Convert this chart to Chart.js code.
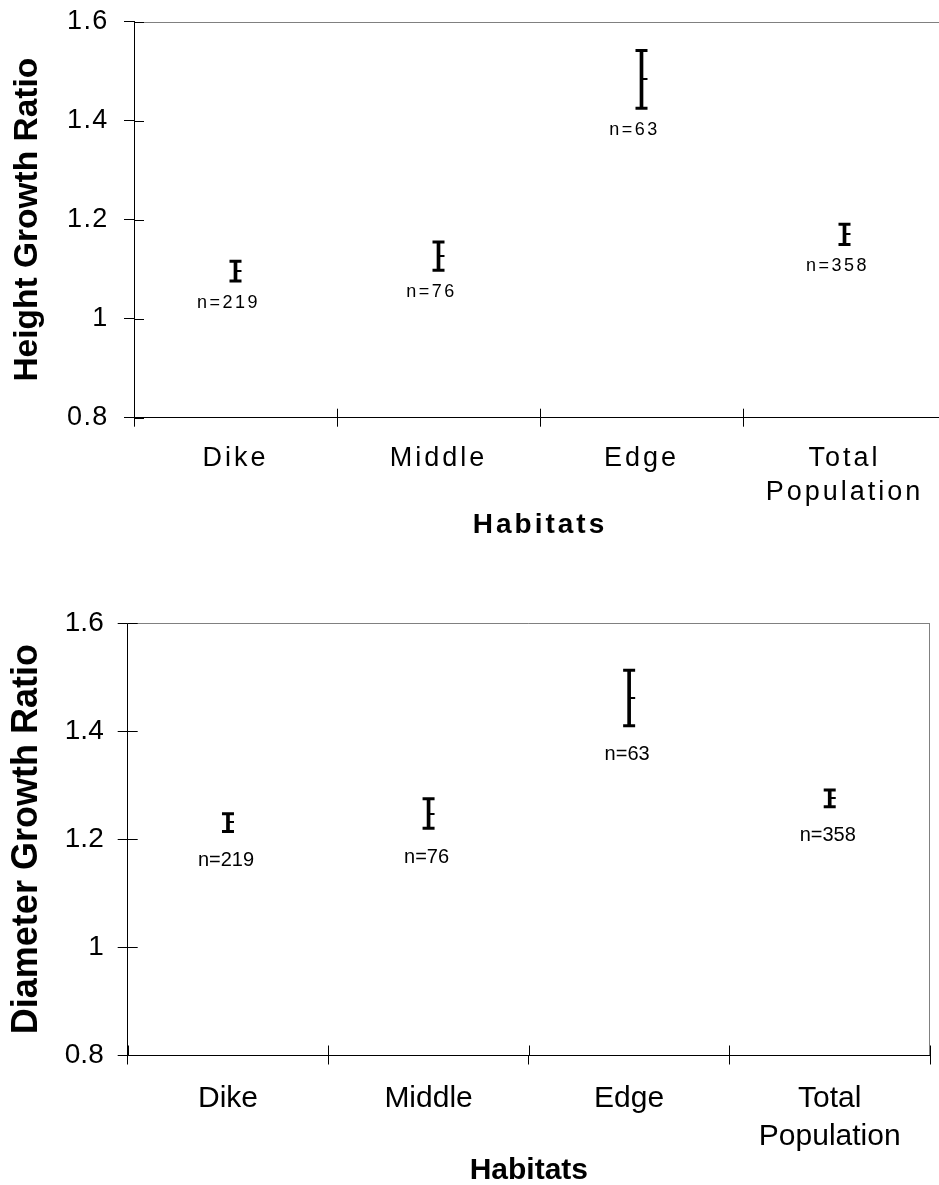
<!DOCTYPE html>
<html>
<head>
<meta charset="utf-8">
<script src="https://cdn.jsdelivr.net/npm/chart.js@4.4.1/dist/chart.umd.min.js"></script>
<style>
  html, body { margin: 0; padding: 0; background: #fff; overflow: hidden; width: 939px; height: 1185px; position: relative; }
  canvas { position: absolute; left: 0; }
  #heightChart { top: 0; }
  #diameterChart { top: 560px; }
</style>
</head>
<body>
<canvas id="heightChart" width="960" height="560"></canvas>
<canvas id="diameterChart" width="939" height="640"></canvas>
<script>
// values
const habitats = ['Dike', 'Middle', 'Edge', ['Total', 'Population']];
const sampleSizes = [219, 76, 63, 358];

const heightLow  = [1.076, 1.098, 1.425, 1.150];
const heightMean = [1.096, 1.127, 1.485, 1.171];
const heightHigh = [1.116, 1.155, 1.542, 1.191];

const diameterLow  = [1.214, 1.220, 1.410, 1.260];
const diameterMean = [1.231, 1.247, 1.461, 1.276];
const diameterHigh = [1.247, 1.275, 1.513, 1.291];

const yMin = 0.8, yMax = 1.6, yStep = 0.2;

Chart.defaults.font.family = '"Liberation Sans", Arial, sans-serif';
Chart.defaults.color = '#000';

// little tick on the right of the bar at the mean
const meanTick = document.createElement('canvas');
meanTick.width = 16;
meanTick.height = 2;
const mctx = meanTick.getContext('2d');
mctx.fillStyle = '#000';
mctx.fillRect(8, 0, 6, 2);

function spaced(fn, px) {
  return function (...args) {
    const ctx = this.ctx;
    const prev = ctx.letterSpacing;
    ctx.letterSpacing = px + 'px';
    fn.apply(this, args);
    ctx.letterSpacing = prev;
  };
}

function errorChart(el, low, mean, high, s) {
  const ranges = low.map((v, i) => [v, high[i]]);
  const points = (data, style, radius, width) => ({
    type: 'line', data: data, showLine: false,
    pointStyle: style, pointRadius: radius, pointHoverRadius: radius,
    pointBorderWidth: width, pointBorderColor: '#000', pointBackgroundColor: '#000'
  });

  // the upper figure was typeset with loose letter spacing
  const spacing = {
    id: 'spacing',
    afterLayout(chart) {
      ['x', 'y'].forEach(id => {
        const sc = chart.scales[id];
        if (sc._spaced) return;
        sc.drawLabels = spaced(sc.drawLabels, s.sp[id + 'Labels']);
        sc.drawTitle = spaced(sc.drawTitle, s.sp[id + 'Title']);
        sc._spaced = true;
      });
    }
  };

  const frame = {
    id: 'frame',
    afterDraw(chart) {
      const { ctx, chartArea: a, scales: { x, y } } = chart;
      ctx.save();
      ctx.lineWidth = 1;
      ctx.strokeStyle = '#808080';
      ctx.beginPath();
      ctx.moveTo(a.left, Math.round(a.top) + 0.5);
      ctx.lineTo(a.right, Math.round(a.top) + 0.5);
      ctx.moveTo(Math.round(a.right) - 0.5, a.top);
      ctx.lineTo(Math.round(a.right) - 0.5, a.bottom);
      ctx.stroke();
      ctx.strokeStyle = '#000';
      ctx.beginPath();
      y.ticks.forEach(t => {
        const p = Math.round(y.getPixelForValue(t.value)) + 0.5;
        ctx.moveTo(a.left, p);
        ctx.lineTo(a.left + 10, p);
      });
      for (let i = 0; i <= habitats.length; i++) {
        const p = Math.round(x.getPixelForValue(i - 0.5)) + 0.5;
        ctx.moveTo(p, a.bottom);
        ctx.lineTo(p, a.bottom - s.xTick);
      }
      ctx.stroke();
      ctx.restore();
    }
  };

  const counts = {
    id: 'counts',
    afterDatasetsDraw(chart) {
      const { ctx, scales: { x, y } } = chart;
      ctx.save();
      ctx.letterSpacing = s.sp.counts + 'px';
      ctx.font = s.nFont + 'px "Liberation Sans", Arial, sans-serif';
      ctx.fillStyle = '#000';
      ctx.textAlign = 'center';
      ctx.textBaseline = 'middle';
      sampleSizes.forEach((n, i) => {
        ctx.fillText('n=' + n, x.getPixelForValue(i) + s.nDx, y.getPixelForValue(low[i]) + s.nDy);
      });
      ctx.restore();
    }
  };

  return new Chart(document.getElementById(el), {
    type: 'bar',
    data: {
      labels: habitats,
      datasets: [
        { data: ranges, backgroundColor: '#000', borderWidth: 0, barThickness: 3, grouped: false },
        points(high, 'line', 6, 3),
        points(low, 'line', 6, 3),
        points(mean, meanTick, 8, 0)
      ]
    },
    options: {
      responsive: false,
      animation: false,
      events: [],
      layout: { padding: { top: s.top, right: s.right, left: 0, bottom: 0 } },
      plugins: { legend: { display: false }, tooltip: { enabled: false } },
      scales: {
        x: {
          offset: true,
          grid: { offset: true, drawOnChartArea: false, tickLength: s.xTick, color: '#000' },
          border: { color: '#000', width: 1 },
          ticks: { font: { size: s.xFont, lineHeight: s.xLh }, padding: s.xPad, maxRotation: 0, autoSkip: false },
          title: {
            display: true, text: 'Habitats',
            font: { size: s.xTitleFont, weight: 'bold' },
            padding: { top: 0, bottom: s.xTitlePad }
          },
          afterFit: sc => { sc.height = s.xHeight; }
        },
        y: {
          min: yMin, max: yMax,
          grid: { drawOnChartArea: false, tickLength: 10, color: '#000' },
          border: { color: '#000', width: 1 },
          ticks: {
            stepSize: yStep, font: { size: s.yFont }, padding: s.yPad,
            callback: v => String(+v.toFixed(1))
          },
          title: {
            display: true, text: s.yTitle,
            font: { size: s.yTitleFont, weight: 'bold' },
            padding: { top: s.yTitlePad, bottom: 0 }
          },
          afterFit: sc => { sc.width = s.yWidth; sc.paddingTop = 0; sc.paddingBottom = 0; }
        }
      }
    },
    plugins: [spacing, frame, counts]
  });
}

errorChart('heightChart', heightLow, heightMean, heightHigh, {
  sp: { xLabels: 3, xTitle: 3, yLabels: 1.3, yTitle: 0, counts: 2.5 },
  top: 21.7, right: 14,
  xTick: 9, xFont: 27, xLh: 1.26, xPad: 15, xHeight: 142.3, xTitleFont: 28, xTitlePad: 18,
  yTitle: 'Height Growth Ratio', yTitleFont: 33.5, yTitlePad: 8, yWidth: 134, yFont: 27, yPad: 15.5,
  nFont: 18, nDx: -7, nDy: 22
});

errorChart('diameterChart', diameterLow, diameterMean, diameterHigh, {
  sp: { xLabels: 0, xTitle: 0, yLabels: 0, yTitle: 0, counts: 0 },
  top: 63.3, right: 5,
  xTick: 9.5, xFont: 30, xLh: 1.27, xPad: 15, xHeight: 145, xTitleFont: 30, xTitlePad: 11,
  yTitle: 'Diameter Growth Ratio', yTitleFont: 36, yTitlePad: 5.5, yWidth: 127.7, yFont: 28, yPad: 14,
  nFont: 20, nDx: -2, nDy: 29
});
</script>
</body>
</html>
